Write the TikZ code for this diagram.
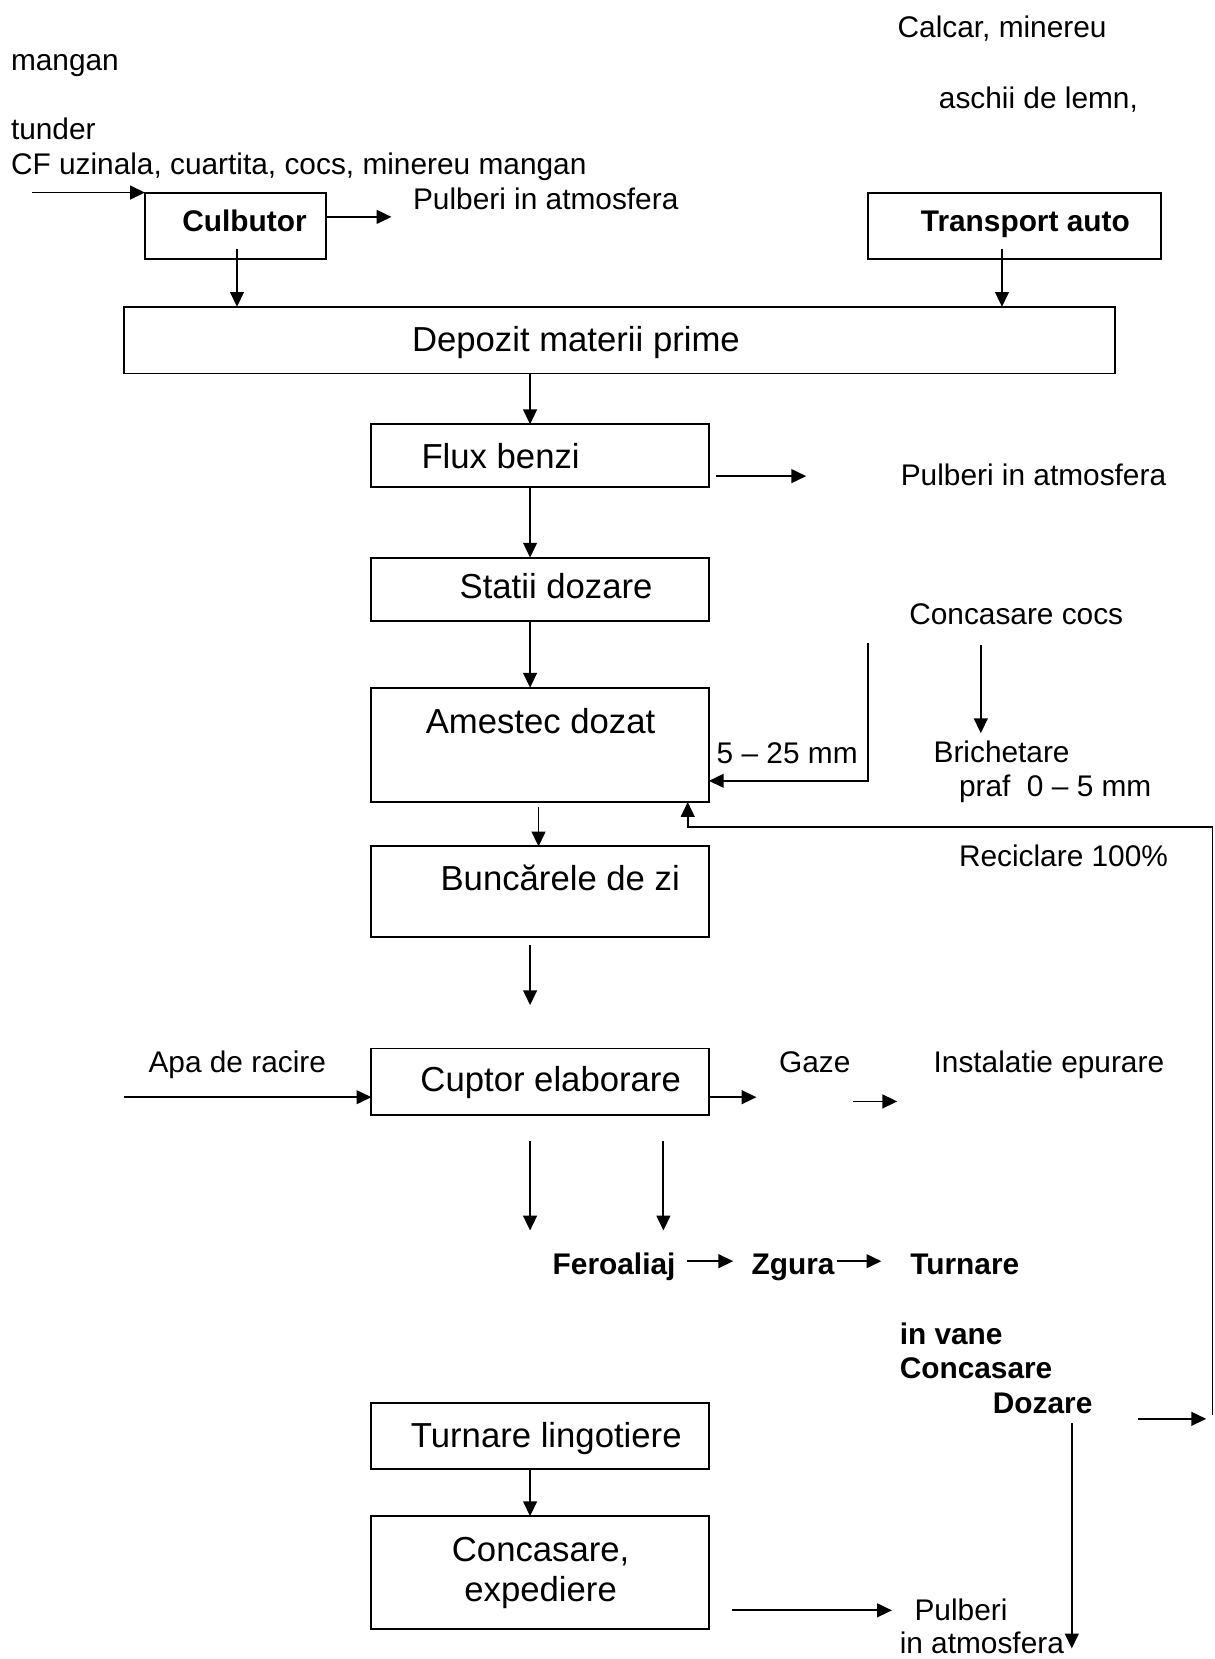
\documentclass[tikz,border=0pt]{standalone}
\usepackage{fontspec}
\setmainfont{Liberation Sans}
\usetikzlibrary{arrows.meta,calc}
\newcommand\bigtxt{\fontsize{16.4}{19}\selectfont}
\newcommand\smalltxt{\fontsize{14.1}{17}\selectfont}
\tikzset{
  box/.style={draw, line width=0.9pt, inner sep=0pt, outer sep=0pt},
  bsize/.style 2 args={minimum width=#1*0.5pt, minimum height=#2*0.5pt},
  arr/.style={line width=0.85pt, -{Triangle[length=7pt,width=6.5pt]}},
  txt/.style={anchor=base west, inner sep=0pt, font=\smalltxt},
  btxt/.style={txt, font=\smalltxt\bfseries},
  ltxt/.style={txt, font=\bigtxt},
}
\begin{document}
\begin{tikzpicture}[x=0.5pt, y=-0.5pt]
\useasboundingbox (0,0) rectangle (1148,1568);

% ---- process boxes ----
\node[box, bsize={171}{63}]  (culb)   at (222.5,213.5) {};
\node[box, bsize={277}{63}]  (transp) at (958.5,213.5) {};
\node[box, bsize={937}{63}]  (depoz)  at (585.5,321.5) {};
\node[box, bsize={319}{59}]  (flux)   at (510.5,430.5) {};
\node[box, bsize={319}{60}]  (statii) at (510.5,557) {};
\node[box, bsize={319}{108}] (amest)  at (510.5,704) {};
\node[box, bsize={319}{86}]  (bunc)   at (510.5,843) {};
\node[box, bsize={319}{63}]  (cupt)   at (510.5,1022.5) {};
\node[box, bsize={319}{62}]  (lingot) at (510.5,1357) {};
\node[box, bsize={319}{107}] (expd)   at (510.5,1486.5) {};

% ---- texts ----
\node[txt] (tcalcar) at (848,35) {Calcar, minereu};
\node[txt] (tmangan) at (10,67) {mangan};
\node[txt] (taschii) at (887,103) {aschii de lemn,};
\node[txt] (ttunder) at (10,132) {tunder};
\node[txt] (tcf) at (10,165) {CF uzinala, cuartita, cocs, minereu mangan};
\node[btxt] (tculb) at (172,219) {Culbutor};
\node[txt] (tpulb1) at (390,198) {Pulberi in atmosfera};
\node[btxt] (ttransp) at (870,219) {Transport auto};
\node[ltxt] (tdepoz) at (389,332) {Depozit materii prime};
\node[ltxt] (tflux) at (398,443) {Flux benzi};
\node[txt] (tpulb2) at (851,459) {Pulberi in atmosfera};
\node[ltxt] (tstatii) at (434,566) {Statii dozare};
\node[txt] (tconcc) at (859,590) {Concasare cocs};
\node[ltxt] (tamest) at (402,693) {Amestec dozat};
\node[txt] (tfrac) at (677,722) {5 – 25 mm};
\node[txt] (tbrich) at (882,721) {Brichetare};
\node[txt] (tpraf) at (906,753) {praf\ \ 0 – 5 mm};
\node[txt] (trecic) at (906,819) {Reciclare 100\%};
\node[ltxt] (tbunc) at (416,842) {Buncărele de zi};
\node[txt] (tapa) at (140,1014) {Apa de racire};
\node[ltxt] (tcupt) at (397,1032) {Cuptor elaborare};
\node[txt] (tgaze) at (736,1014) {Gaze};
\node[txt] (tinst) at (882,1014) {Instalatie epurare};
\node[btxt] (tfero) at (522,1205) {Feroaliaj};
\node[btxt] (tzgura) at (710,1205) {Zgura};
\node[btxt] (tturn) at (860,1205) {Turnare};
\node[btxt] (tvane) at (850,1271) {in vane};
\node[btxt] (tconc2) at (850,1303) {Concasare};
\node[btxt] (tdoz) at (938,1336) {Dozare};
\node[ltxt] (tling) at (388,1368) {Turnare lingotiere};
\node[ltxt, anchor=base] (texp1) at (511,1476) {Concasare,};
\node[ltxt, anchor=base] (texp2) at (511,1514) {expediere};
\node[txt] (tpulb3) at (864,1532) {Pulberi};
\node[txt] (tpulb4) at (850,1563) {in atmosfera};

% ---- free ends and guide coordinates ----
\coordinate (cfin)   at (30,182);
\coordinate (pout1)  at (370,205);
\coordinate (xculb)  at (224,0);
\coordinate (xtrans) at (947,0);
\coordinate (xmain)  at (501,0);
\coordinate (fluxa)  at (677,450);
\coordinate (fluxb)  at (762,450);
\coordinate (cocsa)  at (820,608);
\coordinate (cocsb)  at (820,738);
\coordinate (bricha) at (927,610);
\coordinate (brichb) at (927,693);
\coordinate (recba)  at (1146,1337);
\coordinate (recbb)  at (1146,782);
\coordinate (recbc)  at (650,782);
\coordinate (xbunc)  at (509,0);
\coordinate (buncb)  at (501,950);
\coordinate (apain)  at (117,1037);
\coordinate (gazea)  at (715,1037);
\coordinate (epa)    at (806,1041);
\coordinate (epb)    at (848,1041);
\coordinate (fera)   at (501,1078);
\coordinate (ferb)   at (501,1163);
\coordinate (zga)    at (627,1078);
\coordinate (zgb)    at (627,1163);
\coordinate (fz1)    at (649,1192);
\coordinate (fz2)    at (693,1192);
\coordinate (zt1)    at (791,1192);
\coordinate (zt2)    at (833,1192);
\coordinate (dza)    at (1076,1341);
\coordinate (dzb)    at (1140,1341);
\coordinate (dva)    at (1013,1345);
\coordinate (dvb)    at (1013,1558);
\coordinate (expa)   at (692,1522);
\coordinate (expb)   at (843,1522);

% ---- connectors ----
\draw[arr] (cfin) -- (culb.north west);
\draw[arr] (culb.east |- pout1) -- (pout1);
\draw[arr] ($(culb.south -| xculb)+(0,-10)$) -- (depoz.north -| xculb);
\draw[arr] ($(transp.south -| xtrans)+(0,-10)$) -- (depoz.north -| xtrans);
\draw[arr] (depoz.south -| xmain) -- (flux.north -| xmain);
\draw[arr] (fluxa) -- (fluxb);
\draw[arr] (flux.south -| xmain) -- (statii.north -| xmain);
\draw[arr] (statii.south -| xmain) -- (amest.north -| xmain);
\draw[arr] (cocsa) -- (cocsb) -- (amest.east |- cocsb);
\draw[arr] (bricha) -- (brichb);
\draw[arr] (recba) -- (recbb) -- (recbc) -- (amest.south -| recbc);
\draw[arr] ($(amest.south -| xbunc)+(0,5)$) -- (bunc.north -| xbunc);
\draw[arr] ($(bunc.south -| xmain)+(0,7)$) -- (buncb);
\draw[arr] (apain) -- (cupt.west |- apain);
\draw[arr] (cupt.east |- gazea) -- (gazea);
\draw[arr] (epa) -- (epb);
\draw[arr] (fera) -- (ferb);
\draw[arr] (zga) -- (zgb);
\draw[arr] (fz1) -- (fz2);
\draw[arr] (zt1) -- (zt2);
\draw[arr] (dza) -- (dzb);
\draw[arr] (dva) -- (dvb);
\draw[arr] (lingot.south -| xmain) -- (expd.north -| xmain);
\draw[arr] (expa) -- (expb);
\end{tikzpicture}
\end{document}
